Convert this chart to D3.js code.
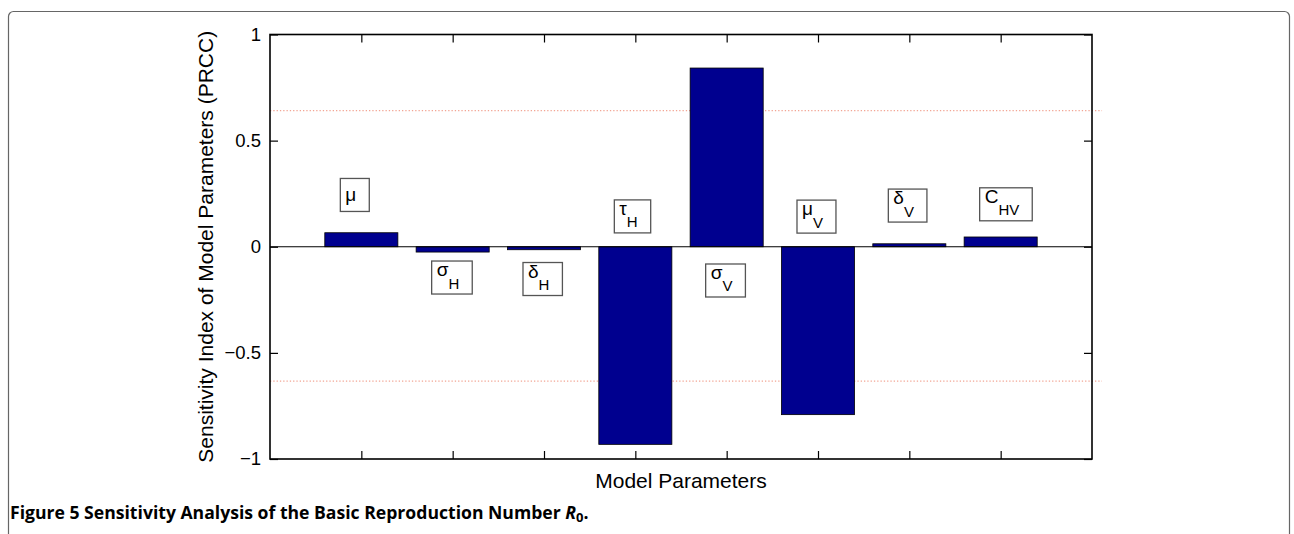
<!DOCTYPE html>
<html>
<head>
<meta charset="utf-8">
<script src="https://cdn.jsdelivr.net/npm/d3@7"></script>
<style>
  body { margin: 0; background: #fff; }
  svg text { font-family: "Liberation Sans", Arial, sans-serif; fill: #000; }
  .caption { font-family: "Open Sans", sans-serif; font-weight: bold; }
</style>
</head>
<body>
<svg id="chart" width="1294" height="534"></svg>
<script>
// DATA
const symbols = ["μ", "σ", "δ", "τ", "σ", "μ", "δ", "C"];
const subscripts = ["", "H", "H", "H", "V", "V", "V", "HV"];
const prcc = [0.066, -0.025, -0.014, -0.931, 0.842, -0.791, 0.014, 0.046];
const labelY = [0.244, -0.145, -0.152, 0.143, -0.159, 0.142, 0.194, 0.200];
const thresholds = [0.641, -0.633];
const yTicks = [-1, -0.5, 0, 0.5, 1];

// LAYOUT
const plot = { left: 270, right: 1092, top: 34.5, bottom: 459 };
const svg = d3.select("#chart");

// outer figure frame
svg.append("rect")
    .attr("x", 8.5).attr("y", 11.5)
    .attr("width", 1281).attr("height", 560)
    .attr("rx", 5)
    .attr("fill", "none")
    .attr("stroke", "#666")
    .attr("stroke-width", 1.2);

// SCALES
const x = d3.scaleLinear().domain([0, 9]).range([plot.left, plot.right]);
const y = d3.scaleLinear().domain([-1, 1]).range([plot.bottom, plot.top]);
const idx = d3.range(1, prcc.length + 1);
const barW = 0.8;

// threshold lines (dotted)
svg.selectAll(".thr")
    .data(thresholds)
    .enter().append("line")
    .attr("class", "thr")
    .attr("x1", x(0)).attr("x2", x(9.11))
    .attr("y1", d => y(d)).attr("y2", d => y(d))
    .attr("stroke", "#f2a594")
    .attr("stroke-width", 1.2)
    .attr("stroke-dasharray", "1.3,2");

// bars
svg.selectAll(".bar")
    .data(prcc)
    .enter().append("rect")
    .attr("class", "bar")
    .attr("x", (d, i) => x(idx[i] - barW / 2))
    .attr("width", x(barW) - x(0))
    .attr("y", d => y(Math.max(0, d)))
    .attr("height", d => Math.abs(y(d) - y(0)))
    .attr("fill", "#00008f")
    .attr("stroke", "#000")
    .attr("stroke-width", 0.8);

// zero baseline
svg.append("line")
    .attr("x1", x(0)).attr("x2", x(9))
    .attr("y1", y(0)).attr("y2", y(0))
    .attr("stroke", "#000").attr("stroke-width", 1);

// AXES (inside ticks, MATLAB style)
const fmt = d3.format("");
const axL = svg.append("g").attr("transform", `translate(${plot.left},0)`)
    .call(d3.axisLeft(y).tickValues(yTicks).tickFormat(fmt).tickSizeInner(-8).tickSizeOuter(0).tickPadding(9));
const axR = svg.append("g").attr("transform", `translate(${plot.right},0)`)
    .call(d3.axisRight(y).tickValues(yTicks).tickFormat("").tickSizeInner(-8).tickSizeOuter(0));
const axB = svg.append("g").attr("transform", `translate(0,${plot.bottom})`)
    .call(d3.axisBottom(x).tickValues(idx).tickFormat("").tickSizeInner(-8).tickSizeOuter(0));
const axT = svg.append("g").attr("transform", `translate(0,${plot.top})`)
    .call(d3.axisTop(x).tickValues(idx).tickFormat("").tickSizeInner(-8).tickSizeOuter(0));

[axL, axR, axB, axT].forEach(g => {
    g.select(".domain").remove();
    g.selectAll(".tick line").attr("stroke", "#000").attr("stroke-width", 1.2);
});
axL.selectAll(".tick text")
    .style("font-size", "18.5px")
    .style("font-family", "'Liberation Sans', Arial, sans-serif");

// axes box
svg.append("rect")
    .attr("x", plot.left).attr("y", plot.top)
    .attr("width", plot.right - plot.left).attr("height", plot.bottom - plot.top)
    .attr("fill", "none").attr("stroke", "#000").attr("stroke-width", 1.6);

// parameter labels in boxes
const labels = svg.selectAll(".plabel")
    .data(symbols)
    .enter().append("g")
    .attr("class", "plabel");

labels.each(function(sym, i) {
    const g = d3.select(this);
    const left = x(idx[i] - 0.23);
    const cy = y(labelY[i]);
    const hasSub = subscripts[i] !== "";
    const base = hasSub ? cy - 1.5 : cy + 6.5;
    const box = g.append("rect");
    const t = g.append("text")
        .attr("x", left + 5)
        .attr("y", base)
        .style("font-size", "19px");
    t.append("tspan").text(sym);
    if (hasSub) {
        t.append("tspan")
            .attr("dy", 12.5)
            .style("font-size", "15px")
            .text(subscripts[i]);
    }
    const w = t.node().getComputedTextLength();
    box.attr("x", left).attr("y", cy - 16.5)
        .attr("width", w + 18).attr("height", 33)
        .attr("fill", "#fff")
        .attr("stroke", "#555").attr("stroke-width", 1.3);
});

// axis titles
svg.append("text")
    .attr("x", (plot.left + plot.right) / 2)
    .attr("y", 488)
    .attr("text-anchor", "middle")
    .style("font-size", "21px")
    .text("Model Parameters");

svg.append("text")
    .attr("transform", `translate(213,${(plot.top + plot.bottom) / 2}) rotate(-90)`)
    .attr("text-anchor", "middle")
    .style("font-size", "21px")
    .text("Sensitivity Index of Model Parameters (PRCC)");

// figure caption
const cap = svg.append("text")
    .attr("class", "caption")
    .attr("x", 10)
    .attr("y", 519)
    .style("font-size", "17.6px");
cap.append("tspan").text("Figure 5 Sensitivity Analysis of the Basic Reproduction Number ");
cap.append("tspan").style("font-style", "italic").text("R");
cap.append("tspan").attr("dy", 3).style("font-size", "13px").text("0");
cap.append("tspan").attr("dy", -3).text(".");
</script>
</body>
</html>
